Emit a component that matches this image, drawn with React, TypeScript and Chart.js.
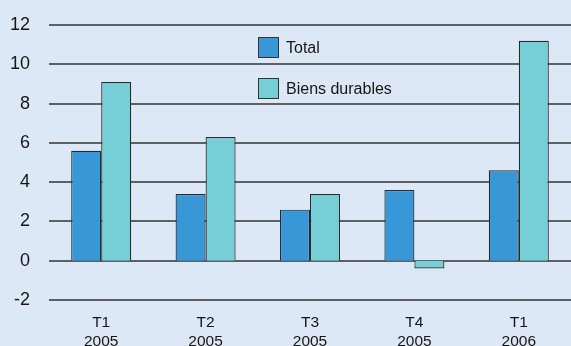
import React, { useEffect, useRef } from "react";
import { Chart, registerables } from "chart.js";

Chart.register(...registerables);

const categories: string[][] = [
  ["T1", "2005"],
  ["T2", "2005"],
  ["T3", "2005"],
  ["T4", "2005"],
  ["T1", "2006"],
];
const totalValues: number[] = [5.6, 3.4, 2.6, 3.6, 4.6];
const durablesValues: number[] = [9.1, 6.3, 3.4, -0.4, 11.2];
const seriesNames: string[] = ["Total", "Biens durables"];
const yMin = -2;
const yMax = 12;
const yStep = 2;

const BG = "#dde8f6";
const FONT = "'Liberation Sans', Arial, sans-serif";
const TEXT = "#161616";

const bgPlugin = {
  id: "bg",
  beforeDraw(chart: any) {
    const ctx = chart.ctx;
    ctx.save();
    ctx.fillStyle = BG;
    ctx.fillRect(0, 0, chart.width, chart.height);
    ctx.restore();
  },
};

const gridPlugin = {
  id: "extGrid",
  beforeDatasetsDraw(chart: any) {
    const ctx = chart.ctx;
    const y = chart.scales.y;
    ctx.save();
    ctx.strokeStyle = "#333333";
    ctx.lineWidth = 1.6;
    y.ticks.forEach((t: any) => {
      const py = Math.round(y.getPixelForValue(t.value));
      ctx.beginPath();
      ctx.moveTo(chart.chartArea.left, py);
      ctx.lineTo(chart.width, py);
      ctx.stroke();
    });
    ctx.restore();
  },
};

const legendPlugin = {
  id: "customLegend",
  afterDatasetsDraw(chart: any) {
    const ctx = chart.ctx;
    ctx.save();
    const rows = [47.5, 88.5];
    chart.data.datasets.forEach((ds: any, i: number) => {
      const cy = rows[i];
      ctx.fillStyle = ds.backgroundColor;
      ctx.fillRect(258.5, cy - 10, 20, 20);
      ctx.strokeStyle = "#333333";
      ctx.lineWidth = 1;
      ctx.strokeRect(258.5, cy - 10, 20, 20);
      ctx.fillStyle = TEXT;
      ctx.font = `16px ${FONT}`;
      ctx.textBaseline = "middle";
      ctx.textAlign = "left";
      ctx.fillText(ds.label, 286, cy + 1);
    });
    ctx.restore();
  },
};

export default function App() {
  const ref = useRef<HTMLCanvasElement | null>(null);

  useEffect(() => {
    document.body.style.margin = "0";
    if (!ref.current) return;
    const chart = new Chart(ref.current, {
      type: "bar",
      data: {
        labels: categories,
        datasets: [
          {
            label: seriesNames[0],
            data: totalValues,
            backgroundColor: "#3897d6",
            borderColor: "#2a2a2a",
            borderWidth: 1.2,
          },
          {
            label: seriesNames[1],
            data: durablesValues,
            backgroundColor: "#76cfd6",
            borderColor: "#2a2a2a",
            borderWidth: 1.2,
          },
        ],
      },
      options: {
        animation: false,
        responsive: false,
        maintainAspectRatio: false,
        layout: { padding: { top: 25, right: 0, left: 0, bottom: 0 } },
        plugins: {
          legend: { display: false },
          tooltip: { enabled: false },
        },
        datasets: {
          bar: { barPercentage: 1, categoryPercentage: 0.575 },
        },
        scales: {
          x: {
            grid: { display: false, drawTicks: false },
            border: { display: false },
            ticks: {
              color: TEXT,
              font: { family: FONT, size: 15.5, lineHeight: 1.22 },
              padding: 13,
              maxRotation: 0,
            },
            afterFit: (s: any) => {
              s.height = 46;
              s.paddingLeft = 0;
              s.paddingRight = 0;
            },
          },
          y: {
            min: yMin,
            max: yMax,
            grid: { display: false, drawTicks: false },
            border: { display: false },
            ticks: {
              stepSize: yStep,
              color: TEXT,
              font: { family: FONT, size: 18 },
              padding: 19,
            },
            afterFit: (s: any) => {
              s.width = 49;
              s.paddingTop = 0;
              s.paddingBottom = 0;
            },
          },
        },
      },
      plugins: [bgPlugin, gridPlugin, legendPlugin],
    });
    return () => chart.destroy();
  }, []);

  return (
    <div style={{ width: 571, height: 346, background: BG }}>
      <canvas ref={ref} width={571} height={346} style={{ display: "block" }} />
    </div>
  );
}
